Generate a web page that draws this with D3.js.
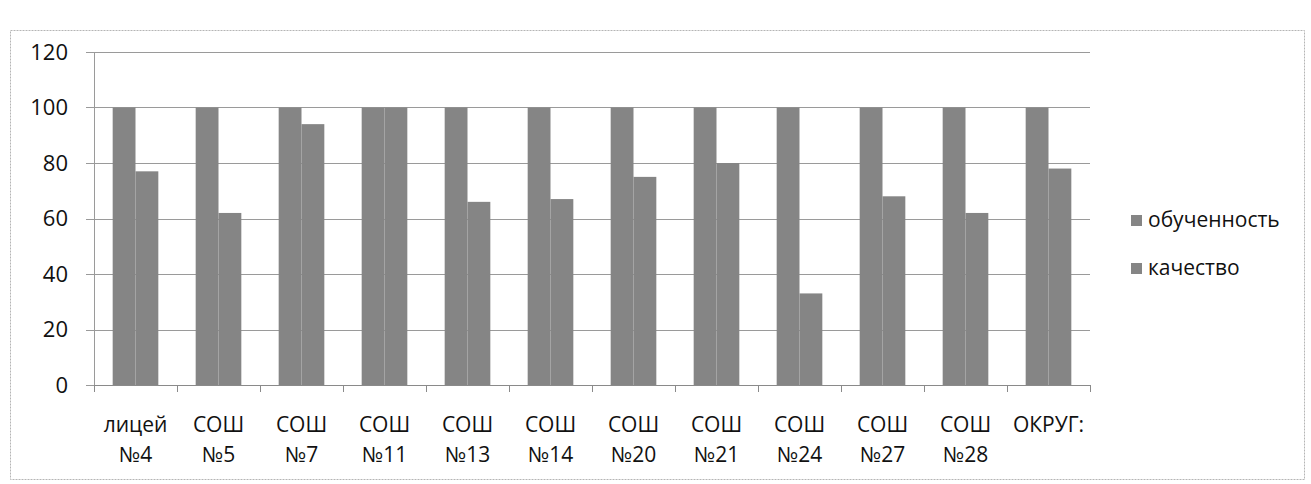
<!DOCTYPE html>
<html>
<head>
<meta charset="utf-8">
<script src="https://cdnjs.cloudflare.com/ajax/libs/d3/7.8.5/d3.min.js"></script>
<style>
  body { margin: 0; background: #fff; }
  svg { display: block; }
</style>
</head>
<body>
<div id="chart"></div>
<script>
var categories = [
    ["лицей", "№4"], ["СОШ", "№5"], ["СОШ", "№7"], ["СОШ", "№11"],
    ["СОШ", "№13"], ["СОШ", "№14"], ["СОШ", "№20"], ["СОШ", "№21"],
    ["СОШ", "№24"], ["СОШ", "№27"], ["СОШ", "№28"], ["ОКРУГ:", ""]
];
var seriesNames = ["обученность", "качество"];
var obuchennost = [100, 100, 100, 100, 100, 100, 100, 100, 100, 100, 100, 100];
var kachestvo   = [77, 62, 94, 100, 66, 67, 75, 80, 33, 68, 62, 78];
var yTicks = [0, 20, 40, 60, 80, 100, 120];

var width = 1311, height = 484;
var margin = {top: 52, left: 94, bottom: 99, right: 221};
var plotW = width - margin.left - margin.right;
var plotH = height - margin.top - margin.bottom;
var barColor = "#858585";
var font = "'Open Sans', 'Noto Sans', sans-serif";

var rows = categories.map(function(c, i) {
    return {cat: c, values: [obuchennost[i], kachestvo[i]]};
});

var svg = d3.select("#chart")
    .append("svg")
    .attr("width", width)
    .attr("height", height);

// outer chart border
svg.append("rect")
    .attr("x", 10.5).attr("y", 30.5)
    .attr("width", 1294).attr("height", 449)
    .attr("fill", "none")
    .attr("stroke", "#b5b5b5")
    .attr("stroke-dasharray", "2,1");

var g = svg.append("g")
    .attr("transform", "translate(" + margin.left + "," + margin.top + ")");

var y = d3.scaleLinear().domain([0, 120]).range([plotH, 0]);
var x0 = d3.scaleBand()
    .domain(d3.range(categories.length))
    .range([0, plotW])
    .paddingInner(0.45)
    .paddingOuter(0.225);
var x1 = d3.scaleBand()
    .domain([0, 1])
    .range([0, x0.bandwidth()]);
var step = x0.step();

// grid lines
g.append("g")
    .selectAll("line")
    .data(yTicks)
    .enter()
    .append("line")
    .attr("x1", -8)
    .attr("x2", plotW)
    .attr("y1", function(d) { return Math.round(y(d)) + 0.5; })
    .attr("y2", function(d) { return Math.round(y(d)) + 0.5; })
    .attr("stroke", "#9a9a9a")
    .attr("stroke-width", 1.2);

// y labels
g.append("g")
    .selectAll("text")
    .data(yTicks)
    .enter()
    .append("text")
    .attr("x", -26)
    .attr("y", function(d) { return y(d); })
    .attr("dy", "0.35em")
    .attr("text-anchor", "end")
    .attr("font-family", font)
    .attr("font-size", 22)
    .attr("fill", "#111")
    .text(function(d) { return d; });

// y axis line
g.append("line")
    .attr("x1", 0.5).attr("x2", 0.5)
    .attr("y1", y(120)).attr("y2", plotH)
    .attr("stroke", "#9a9a9a");

// bars
var group = g.selectAll(".grp")
    .data(rows)
    .enter()
    .append("g")
    .attr("class", "grp")
    .attr("transform", function(d, i) { return "translate(" + x0(i) + ",0)"; });

group.selectAll("rect")
    .data(function(d) { return d.values; })
    .enter()
    .append("rect")
    .attr("x", function(d, i) { return x1(i); })
    .attr("y", function(d) { return y(d); })
    .attr("width", x1.bandwidth())
    .attr("height", function(d) { return plotH - y(d); })
    .attr("fill", barColor);

// x axis with ticks between categories
var xa = g.append("g").attr("transform", "translate(0," + plotH + ")");
xa.append("line")
    .attr("x1", 0).attr("x2", plotW)
    .attr("y1", 0.5).attr("y2", 0.5)
    .attr("stroke", "#8a8a8a");
xa.selectAll(".tk")
    .data(d3.range(categories.length + 1))
    .enter()
    .append("line")
    .attr("class", "tk")
    .attr("x1", function(d) { return Math.round(d * step) + 0.5; })
    .attr("x2", function(d) { return Math.round(d * step) + 0.5; })
    .attr("y1", 0).attr("y2", 7)
    .attr("stroke", "#8a8a8a");

var lbl = xa.selectAll(".lbl")
    .data(rows)
    .enter()
    .append("text")
    .attr("class", "lbl")
    .attr("text-anchor", "middle")
    .attr("font-family", font)
    .attr("font-size", 21)
    .attr("fill", "#111");
lbl.append("tspan")
    .attr("x", function(d, i) { return x0(i) + x0.bandwidth() / 2; })
    .attr("y", 47)
    .text(function(d) { return d.cat[0]; });
lbl.append("tspan")
    .attr("x", function(d, i) { return x0(i) + x0.bandwidth() / 2; })
    .attr("y", 77)
    .text(function(d) { return d.cat[1]; });

// legend
var legend = svg.append("g")
    .attr("transform", "translate(1131,220)");
var item = legend.selectAll("g")
    .data(seriesNames)
    .enter()
    .append("g")
    .attr("transform", function(d, i) { return "translate(0," + i * 48 + ")"; });
item.append("rect")
    .attr("x", 0).attr("y", -5)
    .attr("width", 11).attr("height", 11)
    .attr("fill", barColor);
item.append("text")
    .attr("x", 17)
    .attr("dy", "0.35em")
    .attr("font-family", font)
    .attr("font-size", 21)
    .attr("fill", "#111")
    .text(function(d) { return d; });
</script>
</body>
</html>
